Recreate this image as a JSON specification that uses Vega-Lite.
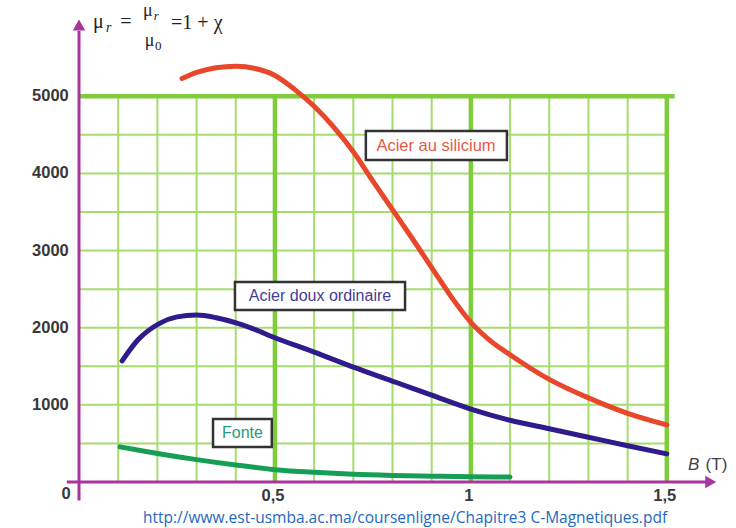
{
  "$schema": "https://vega.github.io/schema/vega-lite/v6.json",
  "width": 627,
  "height": 432,
  "autosize": {"type": "none"},
  "padding": {"left": 79, "top": 50, "right": 30, "bottom": 46},
  "background": "white",
  "config": {"view": {"stroke": null}},
  "data": {"values": [{}]},
  "datasets": {
    "minorX": [{"B":0.1},{"B":0.2},{"B":0.3},{"B":0.4},{"B":0.6},{"B":0.7},{"B":0.8},{"B":0.9},{"B":1.1},{"B":1.2},{"B":1.3},{"B":1.4}],
    "majorX": [{"B":0.5},{"B":1.0},{"B":1.5}],
    "minorY": [{"mu":500},{"mu":1000},{"mu":1500},{"mu":2000},{"mu":2500},{"mu":3000},{"mu":3500},{"mu":4000},{"mu":4500}],
    "majorY": [{"mu":5000}],
    "yticks": [{"mu":1000,"label":"1000"},{"mu":2000,"label":"2000"},{"mu":3000,"label":"3000"},{"mu":4000,"label":"4000"},{"mu":5000,"label":"5000"}],
    "xticks": [{"B":0.5,"label":"0,5"},{"B":1.0,"label":"1"},{"B":1.5,"label":"1,5"}],
    "curves": [
      {"material":"Acier au silicium","B":0.263,"mu":5230},
      {"material":"Acier au silicium","B":0.30,"mu":5310},
      {"material":"Acier au silicium","B":0.35,"mu":5370},
      {"material":"Acier au silicium","B":0.40,"mu":5390},
      {"material":"Acier au silicium","B":0.45,"mu":5360},
      {"material":"Acier au silicium","B":0.50,"mu":5270},
      {"material":"Acier au silicium","B":0.55,"mu":5090},
      {"material":"Acier au silicium","B":0.60,"mu":4870},
      {"material":"Acier au silicium","B":0.65,"mu":4600},
      {"material":"Acier au silicium","B":0.70,"mu":4280},
      {"material":"Acier au silicium","B":0.75,"mu":3900},
      {"material":"Acier au silicium","B":0.80,"mu":3530},
      {"material":"Acier au silicium","B":0.85,"mu":3160},
      {"material":"Acier au silicium","B":0.90,"mu":2780},
      {"material":"Acier au silicium","B":0.95,"mu":2400},
      {"material":"Acier au silicium","B":1.0,"mu":2070},
      {"material":"Acier au silicium","B":1.05,"mu":1830},
      {"material":"Acier au silicium","B":1.1,"mu":1650},
      {"material":"Acier au silicium","B":1.2,"mu":1330},
      {"material":"Acier au silicium","B":1.3,"mu":1090},
      {"material":"Acier au silicium","B":1.4,"mu":890},
      {"material":"Acier au silicium","B":1.5,"mu":740},
      {"material":"Acier doux ordinaire","B":0.11,"mu":1570},
      {"material":"Acier doux ordinaire","B":0.15,"mu":1840},
      {"material":"Acier doux ordinaire","B":0.207,"mu":2060},
      {"material":"Acier doux ordinaire","B":0.25,"mu":2140},
      {"material":"Acier doux ordinaire","B":0.30,"mu":2165},
      {"material":"Acier doux ordinaire","B":0.35,"mu":2130},
      {"material":"Acier doux ordinaire","B":0.403,"mu":2060},
      {"material":"Acier doux ordinaire","B":0.45,"mu":1975},
      {"material":"Acier doux ordinaire","B":0.495,"mu":1880},
      {"material":"Acier doux ordinaire","B":0.597,"mu":1690},
      {"material":"Acier doux ordinaire","B":0.70,"mu":1490},
      {"material":"Acier doux ordinaire","B":0.81,"mu":1290},
      {"material":"Acier doux ordinaire","B":0.90,"mu":1125},
      {"material":"Acier doux ordinaire","B":1.0,"mu":945},
      {"material":"Acier doux ordinaire","B":1.1,"mu":800},
      {"material":"Acier doux ordinaire","B":1.2,"mu":690},
      {"material":"Acier doux ordinaire","B":1.3,"mu":580},
      {"material":"Acier doux ordinaire","B":1.4,"mu":470},
      {"material":"Acier doux ordinaire","B":1.5,"mu":365},
      {"material":"Fonte","B":0.105,"mu":455},
      {"material":"Fonte","B":0.2,"mu":370},
      {"material":"Fonte","B":0.3,"mu":290},
      {"material":"Fonte","B":0.4,"mu":220},
      {"material":"Fonte","B":0.5,"mu":160},
      {"material":"Fonte","B":0.6,"mu":125},
      {"material":"Fonte","B":0.7,"mu":100},
      {"material":"Fonte","B":0.8,"mu":85},
      {"material":"Fonte","B":0.9,"mu":75},
      {"material":"Fonte","B":1.0,"mu":68},
      {"material":"Fonte","B":1.1,"mu":65}
    ]
  },
  "layer": [
    {
      "data": {"name": "minorX"},
      "mark": {"type": "rule", "color": "#a6dc6e", "strokeWidth": 2},
      "encoding": {
        "x": {"field": "B", "type": "quantitative", "scale": {"domain": [0, 1.6], "nice": false, "zero": false}, "axis": null},
        "y": {"datum": 0, "type": "quantitative", "scale": {"domain": [0, 5600], "nice": false, "zero": false}, "axis": null},
        "y2": {"datum": 5000}
      }
    },
    {
      "data": {"name": "minorY"},
      "mark": {"type": "rule", "color": "#a6dc6e", "strokeWidth": 2},
      "encoding": {
        "y": {"field": "mu", "type": "quantitative"},
        "x": {"datum": 0, "type": "quantitative"},
        "x2": {"datum": 1.5}
      }
    },
    {
      "data": {"name": "majorX"},
      "mark": {"type": "rule", "color": "#7fcc3c", "strokeWidth": 4.5},
      "encoding": {
        "x": {"field": "B", "type": "quantitative"},
        "y": {"datum": 0, "type": "quantitative"},
        "y2": {"datum": 5000}
      }
    },
    {
      "data": {"name": "majorY"},
      "mark": {"type": "rule", "color": "#7fcc3c", "strokeWidth": 4.5},
      "encoding": {
        "y": {"field": "mu", "type": "quantitative"},
        "x": {"datum": 0, "type": "quantitative"},
        "x2": {"datum": 1.52}
      }
    },
    {
      "data": {"name": "curves"},
      "mark": {"type": "line", "interpolate": "monotone", "strokeWidth": 5, "strokeCap": "round"},
      "encoding": {
        "x": {"field": "B", "type": "quantitative"},
        "y": {"field": "mu", "type": "quantitative"},
        "detail": {"field": "material"},
        "color": {"field": "material", "type": "nominal", "legend": null,
          "scale": {"domain": ["Acier au silicium", "Acier doux ordinaire", "Fonte"], "range": ["#e8472c", "#2f1b8c", "#169e57"]}}
      }
    },
    {
      "mark": {"type": "rect", "fill": "white", "stroke": "#333333", "strokeWidth": 2.5},
      "encoding": {"x": {"datum": 0.732, "type": "quantitative"}, "x2": {"datum": 1.092}, "y": {"datum": 4550, "type": "quantitative"}, "y2": {"datum": 4174}}
    },
    {
      "mark": {"type": "text", "text": "Acier au silicium", "font": "Liberation Sans", "fontSize": 16.5, "color": "#e25a48", "align": "center", "baseline": "middle"},
      "encoding": {"x": {"datum": 0.911, "type": "quantitative"}, "y": {"datum": 4356, "type": "quantitative"}}
    },
    {
      "mark": {"type": "rect", "fill": "white", "stroke": "#333333", "strokeWidth": 2.5},
      "encoding": {"x": {"datum": 0.398, "type": "quantitative"}, "x2": {"datum": 0.832}, "y": {"datum": 2593, "type": "quantitative"}, "y2": {"datum": 2230}}
    },
    {
      "mark": {"type": "text", "text": "Acier doux ordinaire", "font": "Liberation Sans", "fontSize": 16, "color": "#453c94", "align": "center", "baseline": "middle"},
      "encoding": {"x": {"datum": 0.615, "type": "quantitative"}, "y": {"datum": 2411, "type": "quantitative"}}
    },
    {
      "mark": {"type": "rect", "fill": "white", "stroke": "#333333", "strokeWidth": 2.5},
      "encoding": {"x": {"datum": 0.342, "type": "quantitative"}, "x2": {"datum": 0.492}, "y": {"datum": 817, "type": "quantitative"}, "y2": {"datum": 454}}
    },
    {
      "mark": {"type": "text", "text": "Fonte", "font": "Liberation Sans", "fontSize": 16, "color": "#2a9a78", "align": "center", "baseline": "middle"},
      "encoding": {"x": {"datum": 0.417, "type": "quantitative"}, "y": {"datum": 635, "type": "quantitative"}}
    },
    {
      "mark": {"type": "rule", "color": "#a8349e", "strokeWidth": 3},
      "encoding": {"x": {"datum": -0.031, "type": "quantitative"}, "x2": {"datum": 1.6}, "y": {"datum": 0, "type": "quantitative"}}
    },
    {
      "mark": {"type": "rule", "color": "#a8349e", "strokeWidth": 3},
      "encoding": {"x": {"datum": 0, "type": "quantitative"}, "y": {"datum": -240, "type": "quantitative"}, "y2": {"datum": 5850}}
    },
    {
      "mark": {"type": "point", "shape": "triangle-right", "filled": true, "color": "#a8349e", "size": 160, "opacity": 1},
      "encoding": {"x": {"datum": 1.612, "type": "quantitative"}, "y": {"datum": 0, "type": "quantitative"}}
    },
    {
      "mark": {"type": "point", "shape": "triangle-up", "filled": true, "color": "#a8349e", "size": 160, "opacity": 1},
      "encoding": {"x": {"datum": 0, "type": "quantitative"}, "y": {"datum": 5924, "type": "quantitative"}}
    },
    {
      "data": {"name": "yticks"},
      "mark": {"type": "text", "font": "Liberation Sans", "fontWeight": "bold", "fontSize": 16.5, "color": "#383838", "align": "right", "baseline": "middle"},
      "encoding": {"x": {"datum": -0.026, "type": "quantitative"}, "y": {"field": "mu", "type": "quantitative"}, "text": {"field": "label"}}
    },
    {
      "data": {"name": "xticks"},
      "mark": {"type": "text", "font": "Liberation Sans", "fontWeight": "bold", "fontSize": 16.5, "color": "#383838", "align": "center", "baseline": "middle", "dx": -2},
      "encoding": {"x": {"field": "B", "type": "quantitative"}, "y": {"datum": -181, "type": "quantitative"}, "text": {"field": "label"}}
    },
    {
      "mark": {"type": "text", "text": "0", "font": "Liberation Sans", "fontWeight": "bold", "fontSize": 16.5, "color": "#383838", "align": "center", "baseline": "middle"},
      "encoding": {"x": {"datum": -0.033, "type": "quantitative"}, "y": {"datum": -150, "type": "quantitative"}}
    },
    {
      "mark": {"type": "text", "text": "B", "font": "Liberation Sans", "fontStyle": "italic", "fontSize": 17, "color": "#444444", "align": "left", "baseline": "middle"},
      "encoding": {"x": {"datum": 1.554, "type": "quantitative"}, "y": {"datum": 220, "type": "quantitative"}}
    },
    {
      "mark": {"type": "text", "text": "(T)", "font": "Liberation Sans", "fontSize": 17, "color": "#444444", "align": "left", "baseline": "middle"},
      "encoding": {"x": {"datum": 1.599, "type": "quantitative"}, "y": {"datum": 220, "type": "quantitative"}}
    },
    {
      "mark": {"type": "text", "text": "μ", "font": "Liberation Serif", "fontSize": 20, "color": "#222222", "align": "left", "baseline": "middle"},
      "encoding": {"x": {"datum": 0.036, "type": "quantitative"}, "y": {"datum": 5963, "type": "quantitative"}}
    },
    {
      "mark": {"type": "text", "text": "r", "font": "Liberation Serif", "fontStyle": "italic", "fontSize": 14, "color": "#222222", "align": "left", "baseline": "middle"},
      "encoding": {"x": {"datum": 0.069, "type": "quantitative"}, "y": {"datum": 5885, "type": "quantitative"}}
    },
    {
      "mark": {"type": "text", "text": "=", "font": "Liberation Serif", "fontSize": 20, "color": "#222222", "align": "left", "baseline": "middle"},
      "encoding": {"x": {"datum": 0.105, "type": "quantitative"}, "y": {"datum": 5963, "type": "quantitative"}}
    },
    {
      "mark": {"type": "text", "text": "μ", "font": "Liberation Serif", "fontSize": 18, "color": "#222222", "align": "left", "baseline": "middle"},
      "encoding": {"x": {"datum": 0.163, "type": "quantitative"}, "y": {"datum": 6106, "type": "quantitative"}}
    },
    {
      "mark": {"type": "text", "text": "r", "font": "Liberation Serif", "fontStyle": "italic", "fontSize": 13, "color": "#222222", "align": "left", "baseline": "middle"},
      "encoding": {"x": {"datum": 0.191, "type": "quantitative"}, "y": {"datum": 6040, "type": "quantitative"}}
    },
    {
      "mark": {"type": "text", "text": "μ", "font": "Liberation Serif", "fontSize": 18, "color": "#222222", "align": "left", "baseline": "middle"},
      "encoding": {"x": {"datum": 0.168, "type": "quantitative"}, "y": {"datum": 5717, "type": "quantitative"}}
    },
    {
      "mark": {"type": "text", "text": "0", "font": "Liberation Serif", "fontSize": 13, "color": "#222222", "align": "left", "baseline": "middle"},
      "encoding": {"x": {"datum": 0.194, "type": "quantitative"}, "y": {"datum": 5652, "type": "quantitative"}}
    },
    {
      "mark": {"type": "text", "text": "=1 + χ", "font": "Liberation Serif", "fontSize": 20, "color": "#222222", "align": "left", "baseline": "middle"},
      "encoding": {"x": {"datum": 0.235, "type": "quantitative"}, "y": {"datum": 5950, "type": "quantitative"}}
    },
    {
      "mark": {"type": "text", "text": "http://www.est-usmba.ac.ma/coursenligne/Chapitre3  C-Magnetiques.pdf", "font": "Open Sans", "fontSize": 15.5, "color": "#2468c2", "align": "center", "baseline": "middle"},
      "encoding": {"x": {"datum": 0.832, "type": "quantitative"}, "y": {"datum": -467, "type": "quantitative"}}
    }
  ]
}
